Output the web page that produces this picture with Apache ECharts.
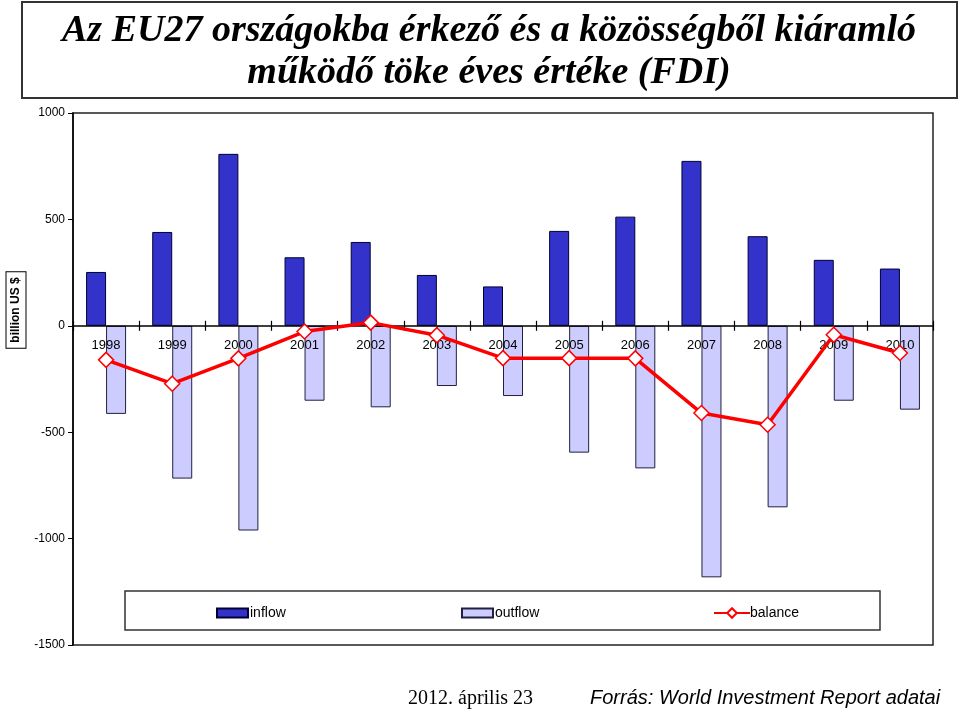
<!DOCTYPE html>
<html>
<head>
<meta charset="utf-8">
<script src="https://cdn.jsdelivr.net/npm/echarts@6/dist/echarts.min.js"></script>
<style>html,body{margin:0;padding:0;background:#fff}#c{width:960px;height:712px}</style>
</head>
<body>
<div id="c"></div>
<script>
const years = ['1998','1999','2000','2001','2002','2003','2004','2005','2006','2007','2008','2009','2010'];
const inflow = [253, 441, 808, 322, 394, 239, 185, 446, 513, 775, 421, 310, 269];
const outflow = [-414, -718, -962, -352, -383, -283, -330, -596, -670, -1182, -853, -352, -394];
const balance = [-160, -272, -153, -27, 15, -44, -152, -152, -153, -410, -465, -42, -128];
const yTicks = { min: -1500, max: 1000, interval: 500 };

const gridTop = 113, gridBottom = 67, H = 712;
const gridH = H - gridTop - gridBottom;
const zeroFromBottom = gridH * (0 - yTicks.min) / (yTicks.max - yTicks.min);

const chart = echarts.init(document.getElementById('c'), null, {renderer: 'canvas'});
const sans = 'Liberation Sans, Arial, sans-serif';
chart.setOption({
  animation: false,
  backgroundColor: '#fff',
  grid: { left: 73, right: 27, top: gridTop, bottom: gridBottom, show: true, borderColor: '#222', borderWidth: 1.5, backgroundColor: 'transparent' },
  xAxis: [{
    type: 'category', data: years, position: 'bottom', offset: -zeroFromBottom, z: 3,
    axisLine: { onZero: false, lineStyle: { color: '#000', width: 1.5 } },
    axisTick: { show: true, length: 5, inside: false, lineStyle: { color: '#000', width: 1.2 } },
    axisLabel: { color: '#000', fontFamily: sans, fontSize: 13, margin: 13 },
    splitLine: { show: false }
  }, {
    type: 'category', data: years, position: 'bottom', offset: -zeroFromBottom, z: 3,
    axisLine: { onZero: false, show: false },
    axisTick: { show: true, length: 5, inside: true, lineStyle: { color: '#000', width: 1.2 } },
    axisLabel: { show: false }, splitLine: { show: false }
  }],
  yAxis: {
    type: 'value', min: yTicks.min, max: yTicks.max, interval: yTicks.interval,
    axisLine: { show: true, lineStyle: { color: '#000', width: 1.5 } },
    axisTick: { show: true, length: 5, lineStyle: { color: '#000' } },
    axisLabel: { color: '#000', fontFamily: sans, fontSize: 12, margin: 8, formatter: v => String(v) },
    splitLine: { show: false }
  },
  legend: [
    { data: [{ name: 'inflow', icon: 'rect' }], left: 211, top: 601, itemWidth: 31, itemHeight: 9, textStyle: { fontFamily: sans, fontSize: 14, color: '#000', padding: [0,0,0,-3] } },
    { data: [{ name: 'outflow', icon: 'rect' }], left: 456, top: 601, itemWidth: 31, itemHeight: 9, textStyle: { fontFamily: sans, fontSize: 14, color: '#000', padding: [0,0,0,-3] } },
    { data: ['balance'], left: 708, top: 601, itemWidth: 36, itemHeight: 12, textStyle: { fontFamily: sans, fontSize: 14, color: '#000', padding: [0,0,0,-5] } }
  ],
  graphic: [
    { type: 'rect', shape: { x: 22, y: 2, width: 935, height: 96 }, style: { fill: '#fff', stroke: '#333', lineWidth: 2 }, z: -1 },
    { type: 'text', x: 489, y: 31, style: { text: 'Az EU27 országokba érkező és a közösségből kiáramló', font: 'italic bold 38px Liberation Serif', fill: '#000', textAlign: 'center', textVerticalAlign: 'middle' } },
    { type: 'text', x: 489, y: 73, style: { text: 'működő töke éves értéke (FDI)', font: 'italic bold 38px Liberation Serif', fill: '#000', textAlign: 'center', textVerticalAlign: 'middle' } },
    { type: 'rect', shape: { x: 125, y: 591, width: 755, height: 39 }, style: { fill: 'transparent', stroke: '#333', lineWidth: 1.5 }, z: 0 },
    { type: 'text', x: 16, y: 310, rotation: Math.PI / 2, style: { text: 'billion US $', font: 'bold 12px Liberation Sans', fill: '#000', textAlign: 'center', textVerticalAlign: 'middle', borderColor: '#000', borderWidth: 1, padding: [4, 5, 3, 5], backgroundColor: '#fff' } },
    { type: 'text', x: 408, y: 699, style: { text: '2012. április 23', font: '20px Liberation Serif', fill: '#000', textAlign: 'left', textVerticalAlign: 'middle' } },
    { type: 'text', x: 590, y: 698, style: { text: 'Forrás: World Investment Report adatai', font: 'italic 20px Liberation Sans', fill: '#000', textAlign: 'left', textVerticalAlign: 'middle' } }
  ],
  series: [
    { name: 'inflow', type: 'bar', data: inflow, barWidth: 20, barGap: '0%', z: 2,
      itemStyle: { color: '#3333CC', borderColor: '#000033', borderWidth: 1 } },
    { name: 'outflow', type: 'bar', data: outflow, barWidth: 20, barGap: '0%', z: 2,
      itemStyle: { color: '#CCCCFF', borderColor: '#202040', borderWidth: 1 } },
    { name: 'balance', type: 'line', data: balance, symbol: 'diamond', symbolSize: 15, z: 5,
      lineStyle: { color: '#FF0000', width: 3.5 },
      itemStyle: { color: '#fff', borderColor: '#FF0000', borderWidth: 1.5 } }
  ]
});
</script>
</body>
</html>
